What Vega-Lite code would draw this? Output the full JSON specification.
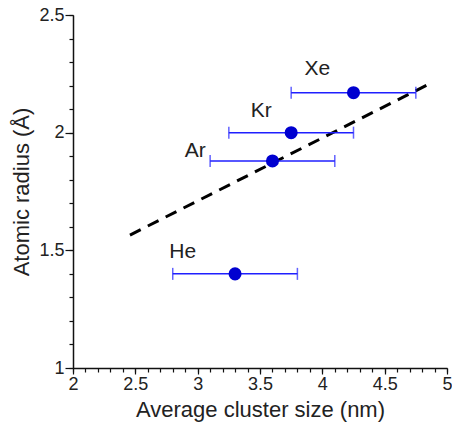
{
  "$schema": "https://vega.github.io/schema/vega-lite/v6.json",
  "width": 374,
  "height": 353,
  "autosize": {"type": "none"},
  "padding": {"left": 73, "top": 15, "right": 5, "bottom": 61},
  "background": "white",
  "config": {
    "view": {"stroke": null},
    "font": "Liberation Sans",
    "axis": {"grid": false, "domainColor": "#111", "domainWidth": 1.5, "tickColor": "#111", "tickWidth": 1.2, "labelColor": "#222", "titleColor": "#222", "labelFont": "Liberation Sans", "titleFont": "Liberation Sans", "labelFontSize": 18, "titleFontSize": 22, "titleFontWeight": "normal", "labelOverlap": false, "labelFlush": false}
  },
  "datasets": {
    "pts": [
      {"gas": "He", "size": 3.3, "radius": 1.4, "lo": 2.8, "hi": 3.8, "lx": 2.88, "ly": 1.493},
      {"gas": "Ar", "size": 3.6, "radius": 1.88, "lo": 3.1, "hi": 4.1, "lx": 2.98, "ly": 1.92},
      {"gas": "Kr", "size": 3.75, "radius": 2.0, "lo": 3.25, "hi": 4.25, "lx": 3.51, "ly": 2.09},
      {"gas": "Xe", "size": 4.25, "radius": 2.17, "lo": 3.75, "hi": 4.75, "lx": 3.96, "ly": 2.27}
    ],
    "fit": [
      {"size": 2.457, "radius": 1.565},
      {"size": 4.876, "radius": 2.212}
    ]
  },
  "resolve": {"axis": {"x": "independent", "y": "independent"}},
  "layer": [
    {
      "data": {"name": "fit"},
      "mark": {"type": "line", "color": "black", "strokeWidth": 3, "strokeDash": [12, 8]},
      "encoding": {
        "x": {"field": "size", "type": "quantitative", "scale": {"domain": [2, 5], "nice": false},
          "title": "Average cluster size (nm)",
          "axis": {"orient": "bottom", "values": [2, 2.5, 3, 3.5, 4, 4.5, 5], "format": "~g", "tickSize": 6, "labelPadding": 1, "titlePadding": 6}},
        "y": {"field": "radius", "type": "quantitative", "scale": {"domain": [1, 2.5], "nice": false, "zero": false},
          "title": "Atomic radius (Å)",
          "axis": {"orient": "left", "values": [1, 1.5, 2, 2.5], "format": "~g", "tickSize": 8, "labelPadding": 1, "titlePadding": 5}}
      }
    },
    {
      "data": {"name": "pts"},
      "mark": {"type": "rule", "color": "#1f1fff", "strokeWidth": 1.5},
      "encoding": {
        "x": {"field": "lo", "type": "quantitative",
          "axis": {"orient": "bottom", "values": [2,2.1,2.2,2.3,2.4,2.5,2.6,2.7,2.8,2.9,3,3.1,3.2,3.3,3.4,3.5,3.6,3.7,3.8,3.9,4,4.1,4.2,4.3,4.4,4.5,4.6,4.7,4.8,4.9,5], "labels": false, "title": null, "domain": false, "tickSize": 4}},
        "x2": {"field": "hi"},
        "y": {"field": "radius", "type": "quantitative",
          "axis": {"orient": "left", "values": [1,1.1,1.2,1.3,1.4,1.5,1.6,1.7,1.8,1.9,2,2.1,2.2,2.3,2.4,2.5], "labels": false, "title": null, "domain": false, "tickSize": 4}}
      }
    },
    {
      "data": {"name": "pts"},
      "mark": {"type": "tick", "orient": "vertical", "color": "#1f1fff", "size": 12, "thickness": 1.5},
      "encoding": {
        "x": {"field": "lo", "type": "quantitative", "axis": null},
        "y": {"field": "radius", "type": "quantitative", "axis": null}
      }
    },
    {
      "data": {"name": "pts"},
      "mark": {"type": "tick", "orient": "vertical", "color": "#1f1fff", "size": 12, "thickness": 1.5},
      "encoding": {
        "x": {"field": "hi", "type": "quantitative", "axis": null},
        "y": {"field": "radius", "type": "quantitative", "axis": null}
      }
    },
    {
      "data": {"name": "pts"},
      "mark": {"type": "point", "filled": true, "color": "#0000d0", "opacity": 1, "size": 170},
      "encoding": {
        "x": {"field": "size", "type": "quantitative", "axis": null},
        "y": {"field": "radius", "type": "quantitative", "axis": null}
      }
    },
    {
      "data": {"name": "pts"},
      "mark": {"type": "text", "fontSize": 21, "color": "#222", "align": "center", "baseline": "middle"},
      "encoding": {
        "x": {"field": "lx", "type": "quantitative", "axis": null},
        "y": {"field": "ly", "type": "quantitative", "axis": null},
        "text": {"field": "gas"}
      }
    }
  ]
}
